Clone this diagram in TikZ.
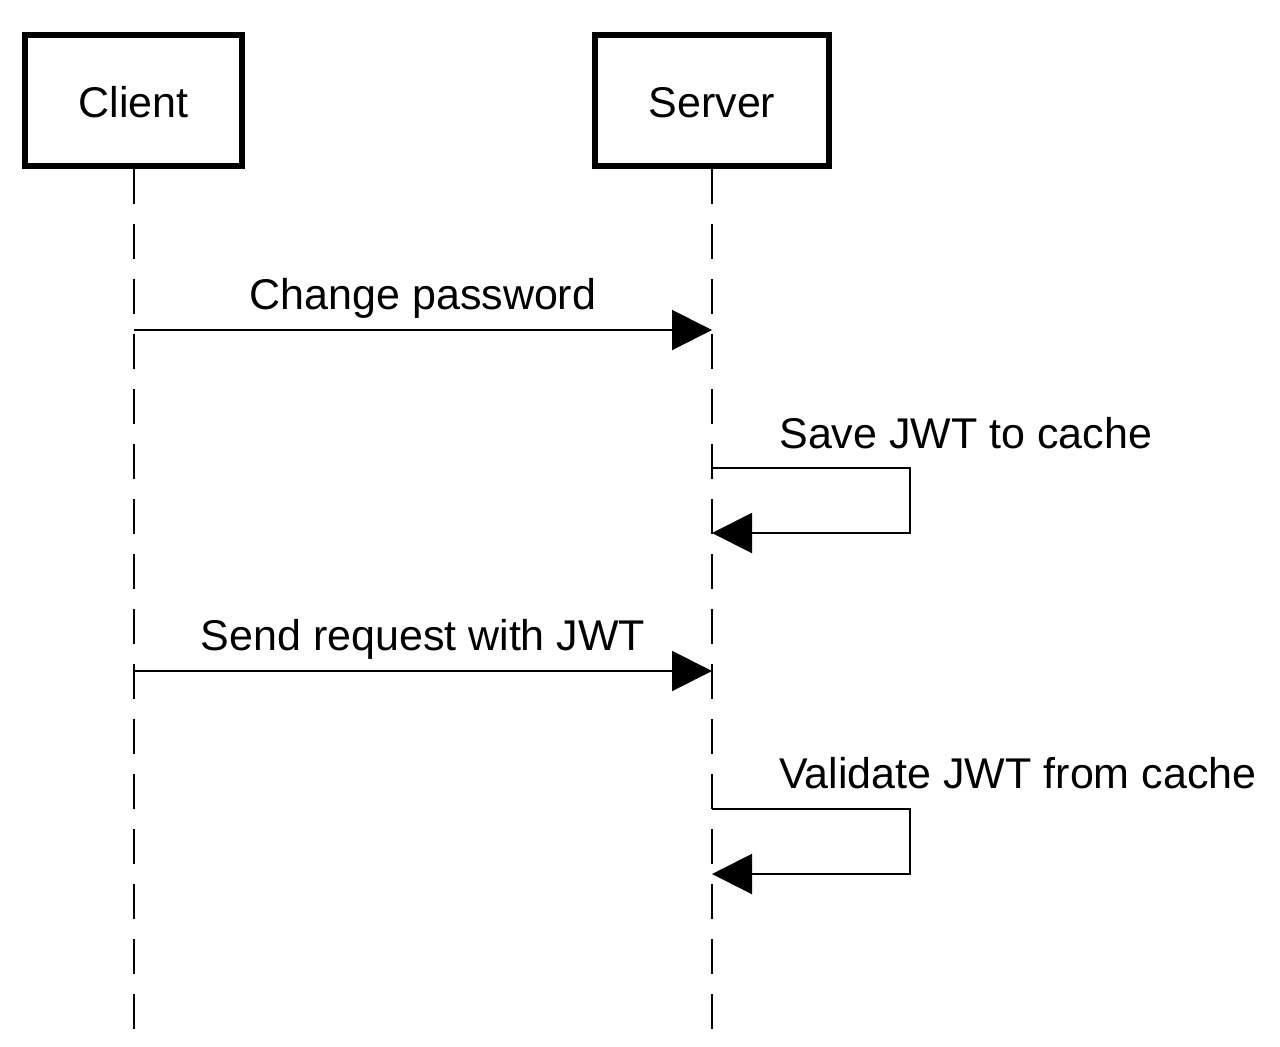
\documentclass[tikz,border=0pt]{standalone}
\usepackage{fontspec}
\setmainfont{Liberation Sans}
\usetikzlibrary{arrows.meta}
\begin{document}
\begin{tikzpicture}[x=0.5pt,y=-0.5pt,
  actor/.style={draw=black, line width=3pt, fill=white, inner sep=0pt,
    text height=16.5pt, text depth=0pt,
    font=\fontsize{21.5}{25}\selectfont},
  lifeline/.style={line width=1pt, dash pattern=on 17.5pt off 10pt},
  msg/.style={line width=1pt, -{Triangle[length=20pt,width=20pt]}},
  lbl/.style={inner sep=0pt, font=\fontsize{21.5}{25}\selectfont}]
\useasboundingbox (0,0) rectangle (1280,1046);
\fill[white] (0,0) rectangle (1280,1046);
% actors
\node[actor, minimum width=108.5pt, minimum height=65.5pt] (client) at (133.5,100.5) {Client};
\node[actor, minimum width=117pt, minimum height=65.5pt] (server) at (712,100.5) {Server};
% lifeline ends
\coordinate (cend) at (134,1046);
\coordinate (send) at (712,1046);
\draw[lifeline] (client.south -| cend) -- (cend);
\draw[lifeline] (server.south) -- (send);
% message points
\coordinate (c1) at (134,330);
\coordinate (s1) at (712,330);
\coordinate (s2a) at (712,468);
\coordinate (s2b) at (712,533);
\coordinate (c3) at (134,671);
\coordinate (s3) at (712,671);
\coordinate (s4a) at (712,809);
\coordinate (s4b) at (712,874);
% messages
\draw[msg] (c1) -- (s1);
\node[lbl, anchor=base] (l1) at (423,309) {Change password};
\draw[msg] (s2a) -- (910,468) -- (910,533) -- (s2b);
\node[lbl, anchor=base west] (l2) at (779,448) {Save JWT to cache};
\draw[msg] (c3) -- (s3);
\node[lbl, anchor=base] (l3) at (423,650) {Send request with JWT};
\draw[msg] (s4a) -- (910,809) -- (910,874) -- (s4b);
\node[lbl, anchor=base west] (l4) at (779,788) {Validate JWT from cache};
\end{tikzpicture}
\end{document}
